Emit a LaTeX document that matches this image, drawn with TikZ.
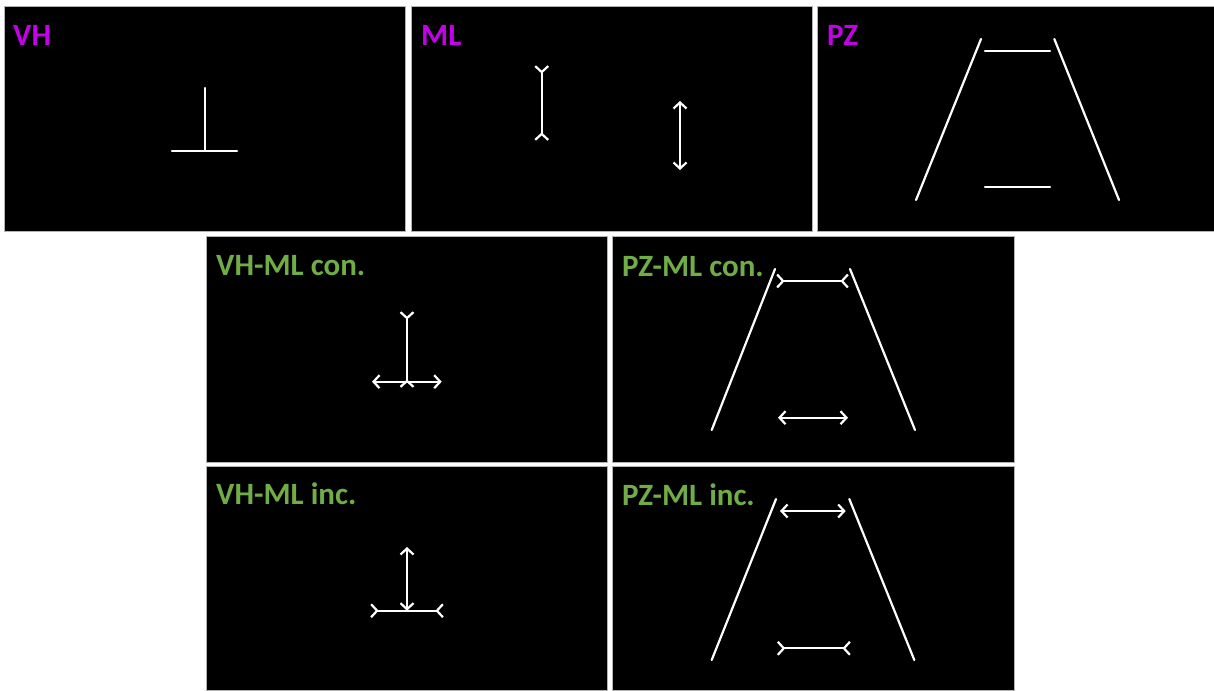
\documentclass[tikz,border=0pt]{standalone}
\usepackage{fontspec}
\setmainfont{Carlito}
\usetikzlibrary{arrows.meta}
\definecolor{labmag}{RGB}{196,0,232}
\definecolor{labgreen}{RGB}{112,173,71}
\tikzset{
  panel/.style={fill=black, draw=gray!60, line width=0.8pt},
  stim/.style={draw=white, line width=2.2pt, line cap=round},
  ahead/.tip={Straight Barb[length=6pt,width=13pt]},
  atail/.tip={Straight Barb[reversed,length=6pt,width=13pt]},
  arrowsout/.style={stim, ahead-ahead},
  finsout/.style={stim, atail-atail},
  lab/.style={anchor=base west, inner sep=0pt, font=\fontsize{31}{33}\selectfont\bfseries},
  titleA/.style={lab, text=labmag},
  titleB/.style={lab, text=labgreen}
}
\begin{document}
\begin{tikzpicture}[x=1pt,y=-1pt]
\useasboundingbox[fill=white] (0,0) rectangle (1214,690);
% panels
\fill[panel] (4,6) rectangle (405,231);
\fill[panel] (411,6) rectangle (812,231);
\fill[panel] (817,6) rectangle (1214,231);
\fill[panel] (206,236) rectangle (607,462);
\fill[panel] (612,236) rectangle (1014,462);
\fill[panel] (206,466) rectangle (607,690);
\fill[panel] (612,466) rectangle (1014,690);
% labels
\node[titleA] (tVH) at (13,46) {VH};
\node[titleA] (tML) at (421,46) {ML};
\node[titleA] (tPZ) at (827,46) {PZ};
\node[titleB] (tVHMLc) at (216,275) {VH-ML con.};
\node[titleB] (tPZMLc) at (622,276) {PZ-ML con.};
\node[titleB] (tVHMLi) at (216,504) {VH-ML inc.};
\node[titleB] (tPZMLi) at (622,505) {PZ-ML inc.};
% VH
\draw[stim] (205,88) -- (205,151);
\draw[stim] (172,151) -- (237,151);
% ML
\draw[finsout] (541.7,65) -- (541.7,141);
\draw[arrowsout] (680,101) -- (680,170);
% PZ
\draw[stim] (916,200) -- (981,39);
\draw[stim] (1054.3,39) -- (1119,200);
\draw[stim] (985,51) -- (1050,51);
\draw[stim] (985,187) -- (1050,187);
% VH-ML con.
\draw[finsout] (407,311) -- (407,388);
\draw[arrowsout] (372,381.7) -- (441.7,381.7);
% PZ-ML con.
\draw[stim] (711.7,430) -- (775,269);
\draw[stim] (850,269) -- (915,430);
\draw[finsout] (776,281) -- (849,281);
\draw[arrowsout] (778,417.7) -- (848,417.7);
% VH-ML inc.
\draw[arrowsout] (407,547) -- (407,610.7);
\draw[finsout] (370,610.7) -- (444,610.7);
% PZ-ML inc.
\draw[stim] (711.7,660) -- (776,499);
\draw[stim] (849.3,499) -- (914.3,660);
\draw[arrowsout] (780,511) -- (845.7,511);
\draw[finsout] (776.7,648.3) -- (851,648.3);
\end{tikzpicture}
\end{document}
